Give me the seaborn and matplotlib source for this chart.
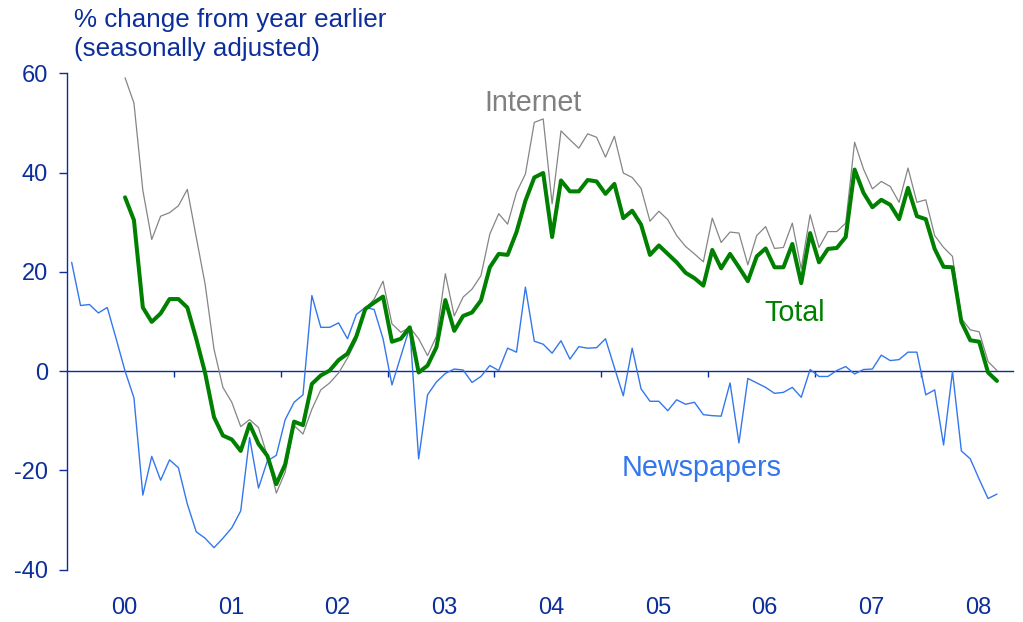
import numpy as np
import pandas as pd
import matplotlib
matplotlib.use("Agg")
import matplotlib.pyplot as plt
import matplotlib.transforms as mtransforms
import seaborn as sns

# monthly data, Jan 2000 = month 0
newspapers = [21.9, 13.2, 13.4, 11.7, 12.8, 6.5, 0.0, -5.4, -25.0, -17.2, -22.0, -17.9,
              -19.5, -26.8, -32.4, -33.7, -35.6, -33.7, -31.6, -28.2, -13.4, -23.6, -18.1, -17.0,
              -9.8, -6.3, -4.8, 15.2, 8.8, 8.8, 9.7, 6.5, 11.4, 12.8, 12.4, 6.5,
              -2.8, 3.0, 8.8, -17.7, -4.8, -2.2, -0.5, 0.4, 0.2, -2.3, -1.1, 1.1,
              0.1, 4.6, 3.8, 16.9, 6.0, 5.4, 3.6, 6.1, 2.4, 4.9, 4.6, 4.7,
              6.5, 0.7, -5.0, 4.6, -3.6, -6.1, -6.1, -8.0, -5.8, -6.7, -6.3, -8.8,
              -9.0, -9.1, -2.4, -14.5, -1.5, -2.4, -3.3, -4.5, -4.3, -3.3, -5.3, 0.3,
              -1.1, -1.1, 0.1, 0.9, -0.6, 0.3, 0.4, 3.2, 2.1, 2.3, 3.8, 3.8,
              -4.8, -3.8, -14.9, -0.1, -16.1, -17.7, -21.8, -25.7, -24.8]

# internet and total start in Jul 2000 (month 6)
internet = [59.1, 54.0, 36.4, 26.5, 31.2, 31.9,
            33.3, 36.6, 27.0, 17.5, 4.4, -3.3, -6.3, -11.2, -9.8, -11.4, -17.1, -24.6,
            -20.4, -11.0, -12.7, -7.7, -3.8, -2.4, -0.4, 2.6, 6.2, 12.5, 14.5, 18.1,
            9.5, 7.8, 8.8, 6.5, 3.1, 7.0, 19.6, 11.1, 14.9, 16.5, 19.2, 27.6,
            31.7, 29.6, 36.0, 39.7, 50.1, 50.8, 33.7, 48.4, 46.6, 44.9, 47.8, 47.1,
            43.1, 47.3, 39.9, 39.0, 36.8, 30.2, 32.2, 30.5, 27.3, 25.1, 23.6, 22.0,
            30.8, 25.9, 28.0, 27.8, 21.4, 27.3, 29.1, 24.7, 24.9, 29.8, 20.6, 31.5,
            24.9, 28.1, 28.1, 29.8, 46.1, 40.7, 36.7, 38.2, 37.2, 34.0, 40.9, 34.0,
            34.5, 27.3, 24.9, 23.1, 10.6, 8.3, 7.9, 1.9, 0.1]

total = [35.0, 30.4, 12.8, 9.9, 11.6, 14.5,
         14.5, 12.8, 6.5, -0.4, -9.3, -13.0, -13.8, -16.1, -10.7, -14.7, -17.1, -22.8,
         -18.8, -10.2, -10.9, -2.6, -0.9, 0.1, 2.2, 3.5, 7.0, 12.5, 13.8, 15.0,
         5.9, 6.5, 8.8, -0.3, 1.1, 4.8, 14.3, 8.1, 11.1, 11.8, 14.2, 20.9,
         23.6, 23.4, 28.0, 34.3, 39.0, 39.9, 27.0, 38.4, 36.2, 36.2, 38.5, 38.2,
         35.7, 37.7, 30.8, 32.3, 29.5, 23.4, 25.3, 23.6, 21.9, 19.8, 18.7, 17.2,
         24.4, 20.7, 23.6, 20.9, 18.1, 23.1, 24.7, 20.9, 20.9, 25.6, 17.7, 27.8,
         21.9, 24.6, 24.8, 27.0, 40.6, 35.9, 33.0, 34.5, 33.5, 30.6, 36.9, 31.2,
         30.6, 24.6, 21.0, 20.9, 9.9, 6.2, 5.9, -0.3, -2.0]

year_labels = ["00", "01", "02", "03", "04", "05", "06", "07", "08"]

navy = "#0c2e9a"
blue = "#3377ee"
green = "#008000"
grey = "#858585"

sns.set_style("white")
plt.rcParams["font.family"] = ["Liberation Sans", "DejaVu Sans"]
plt.rcParams["axes.unicode_minus"] = False

news_df = pd.DataFrame({"month": np.arange(len(newspapers)) + 0.5, "value": newspapers})
start = len(newspapers) - len(internet)
inet_df = pd.DataFrame({"month": np.arange(start, start + len(internet)) + 0.5, "value": internet})
total_df = pd.DataFrame({"month": np.arange(start, start + len(total)) + 0.5, "value": total})

fig = plt.figure(figsize=(10.23, 6.22), dpi=100)
ax = fig.add_axes([0.0657, 0.0844, 0.9245, 0.7978])

sns.lineplot(data=news_df, x="month", y="value", color=blue, linewidth=1.0, ax=ax)
sns.lineplot(data=inet_df, x="month", y="value", color=grey, linewidth=0.9, ax=ax)
sns.lineplot(data=total_df, x="month", y="value", color=green, linewidth=2.9, ax=ax)

ax.set_xlim(0, 106.3)
ax.set_ylim(-40, 60)
ax.set_xlabel("")
ax.set_ylabel("")

# axes styling
ax.spines["top"].set_visible(False)
ax.spines["right"].set_visible(False)
ax.spines["left"].set_color(navy)
ax.spines["left"].set_linewidth(1.0)
ax.spines["bottom"].set_position(("data", 0))
ax.spines["bottom"].set_color(navy)
ax.spines["bottom"].set_linewidth(1.0)
ax.spines["bottom"].set_zorder(1)

ax.set_yticks([-40, -20, 0, 20, 40, 60])
ax.tick_params(axis="y", left=True, direction="out", length=6, width=1.0, color=navy,
               labelcolor=navy, labelsize=17, pad=8)
ax.set_xticks(np.arange(12, 97, 12))
ax.set_xticklabels([])
ax.tick_params(axis="x", bottom=True, direction="out", length=4.5, width=1.0, color=navy)

trans = mtransforms.blended_transform_factory(ax.transData, ax.transAxes)
for k, lab in enumerate(year_labels):
    ax.text(12 * k + 6.4, -0.077, lab, transform=trans, ha="center", va="center",
            fontsize=17, color=navy)

# series labels
ax.text(52.3, 52.4, "Internet", color="#808080", fontsize=20.7, ha="center", va="baseline")
ax.text(81.8, 10.1, "Total", color=green, fontsize=20.7, ha="center", va="baseline")
ax.text(71.3, -21.1, "Newspapers", color=blue, fontsize=20.7, ha="center", va="baseline")

fig.text(0.0723, 0.987, "% change from year earlier\n(seasonally adjusted)", color=navy,
         fontsize=18.7, ha="left", va="top", linespacing=1.25)

fig.savefig("out.png", dpi=100)
